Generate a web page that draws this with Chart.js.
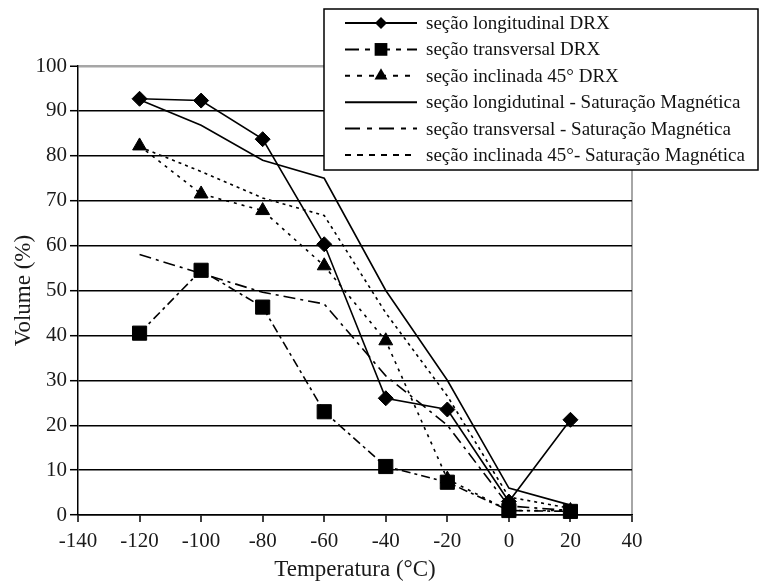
<!DOCTYPE html>
<html lang="pt">
<head>
<meta charset="utf-8">
<title>Volume x Temperatura</title>
<script src="https://cdn.jsdelivr.net/npm/chart.js@4.4.1/dist/chart.umd.min.js"></script>
<style>
  html, body { margin: 0; padding: 0; background: #fff; }
  canvas { display: block; }
</style>
</head>
<body>
<canvas id="grafico" width="761" height="586"></canvas>
<script>
// temperaturas de ensaio (°C)
const temperaturas = [-120, -100, -80, -60, -40, -20, 0, 20];

// volume (%) medido por DRX
const longDRX  = [92.7, 92.3, 83.7, 60.3, 26.0, 23.5, 3.0, 21.2];
const transDRX = [40.5, 54.5, 46.3, 23.0, 10.8, 7.3, 1.0, 0.8];
const inclDRX  = [82.2, 71.5, 67.8, 55.5, 38.8, 8.0, 1.0, 1.0];

// volume (%) por saturação magnética
const longSM  = [92.5, 86.8, 79.0, 75.0, 50.0, 30.0, 6.0, 2.2];
const transSM = [58.0, 53.8, 49.6, 47.0, 31.0, 20.0, 2.0, 1.0];
const inclSM  = [82.0, 76.5, 70.6, 66.7, 45.0, 26.5, 4.0, 1.5];

// marcas dos eixos
const ticksX = [-140, -120, -100, -80, -60, -40, -20, 0, 20, 40];
const ticksY = [0, 10, 20, 30, 40, 50, 60, 70, 80, 90, 100];

const FONTE = "'Liberation Serif', 'Times New Roman', serif";

function pontos(valores) {
    return valores.map((v, i) => ({ x: temperaturas[i], y: v }));
}

function serie(label, valores, dash, estilo, raio, legDash, legRaio) {
    return {
        label: label,
        data: pontos(valores),
        borderColor: '#000',
        backgroundColor: '#000',
        borderWidth: 1.6,
        borderDash: dash,
        tension: 0,
        pointStyle: estilo || 'circle',
        pointRadius: estilo ? raio : 0,
        pointHoverRadius: estilo ? raio : 0,
        pointBackgroundColor: '#000',
        pointBorderColor: '#000',
        pointBorderWidth: 1,
        clip: false,
        legDash: legDash,
        legRaio: legRaio
    };
}

const datasets = [
    serie('seção longitudinal DRX', longDRX, [], 'rectRot', 7.5, [], 6),
    serie('seção transversal DRX', transDRX, [9, 4, 3, 4], 'rect', 10, [14, 6, 5, 6], 9),
    serie('seção inclinada 45° DRX', inclDRX, [3, 5], 'triangle', 8, [5, 7], 7.5),
    serie('seção longidutinal - Saturação Magnética', longSM, [], null, 0, [], 0),
    serie('seção transversal - Saturação Magnética', transSM, [12, 5, 3, 5], null, 0, [15, 7, 5, 7], 0),
    serie('seção inclinada 45°- Saturação Magnética', inclSM, [3, 4], null, 0, [6, 6], 0)
];

function marcador(ctx, estilo, r, x, y) {
    ctx.beginPath();
    if (estilo === 'rectRot') {
        ctx.moveTo(x, y - r); ctx.lineTo(x + r, y); ctx.lineTo(x, y + r); ctx.lineTo(x - r, y);
    } else if (estilo === 'rect') {
        const s = r * Math.SQRT1_2;
        ctx.rect(x - s, y - s, 2 * s, 2 * s);
    } else if (estilo === 'triangle') {
        const h = r * 0.866;
        ctx.moveTo(x, y - r); ctx.lineTo(x + h, y + r / 2); ctx.lineTo(x - h, y + r / 2);
    }
    ctx.closePath();
    ctx.fill();
}

// quadro da legenda sobre a área do gráfico
const legendaQuadro = {
    id: 'legendaQuadro',
    afterDraw(chart) {
        const ctx = chart.ctx;
        const bx = 324, by = 9, bw = 434, bh = 161;
        ctx.save();
        ctx.setLineDash([]);
        ctx.fillStyle = '#fff';
        ctx.fillRect(bx, by, bw, bh);
        ctx.strokeStyle = '#000';
        ctx.lineWidth = 1.5;
        ctx.strokeRect(bx, by, bw, bh);

        ctx.font = '19px ' + FONTE;
        ctx.textBaseline = 'middle';
        ctx.textAlign = 'left';
        chart.data.datasets.forEach((ds, i) => {
            const y = 23 + i * 26.4;
            ctx.strokeStyle = '#000';
            ctx.lineWidth = 2;
            ctx.setLineDash(ds.legDash);
            ctx.beginPath();
            ctx.moveTo(345, y);
            ctx.lineTo(417, y);
            ctx.stroke();
            ctx.setLineDash([]);
            if (ds.pointRadius > 0) {
                ctx.fillStyle = '#000';
                marcador(ctx, ds.pointStyle, ds.legRaio, 381, y);
            }
            ctx.fillStyle = '#111';
            ctx.fillText(ds.label, 426, y + 1);
        });
        ctx.restore();
    }
};

new Chart(document.getElementById('grafico'), {
    type: 'line',
    data: { datasets: datasets },
    options: {
        responsive: false,
        animation: false,
        events: [],
        layout: { padding: { top: 66, right: 129, left: 0, bottom: 0 } },
        plugins: {
            legend: { display: false },
            title: { display: false },
            tooltip: { enabled: false }
        },
        scales: {
            x: {
                type: 'linear',
                min: -140,
                max: 40,
                afterBuildTicks: s => { s.ticks = ticksX.map(v => ({ value: v })); },
                afterFit: s => { s.height = 71; },
                border: { display: true, color: '#000', width: 1.5 },
                grid: {
                    drawOnChartArea: true,
                    color: c => (c.tick && c.tick.value === 40) ? '#a6a6a6' : 'rgba(0,0,0,0)',
                    lineWidth: 2,
                    tickColor: '#000',
                    tickLength: 7,
                    tickWidth: 1.5
                },
                ticks: {
                    color: '#1a1a1a',
                    font: { family: FONTE, size: 21 },
                    padding: 7,
                    maxRotation: 0,
                    autoSkip: false
                },
                title: {
                    display: true,
                    text: 'Temperatura (°C)',
                    color: '#1a1a1a',
                    font: { family: FONTE, size: 23 },
                    padding: { top: 0, bottom: 2 }
                }
            },
            y: {
                min: 0,
                max: 100,
                afterBuildTicks: s => { s.ticks = ticksY.map(v => ({ value: v })); },
                afterFit: s => { s.width = 78; },
                border: { display: true, color: '#000', width: 1.5 },
                grid: {
                    color: c => (c.tick && c.tick.value === 100) ? '#a6a6a6' : '#000',
                    lineWidth: c => (c.tick && c.tick.value === 100) ? 2.5 : 1.4,
                    tickColor: '#000',
                    tickLength: 8,
                    tickWidth: 1.5
                },
                ticks: {
                    color: '#1a1a1a',
                    font: { family: FONTE, size: 21 },
                    padding: 3,
                    autoSkip: false
                },
                title: {
                    display: true,
                    text: 'Volume (%)',
                    color: '#1a1a1a',
                    font: { family: FONTE, size: 23 },
                    padding: { top: 10, bottom: 0 }
                }
            }
        }
    },
    plugins: [legendaQuadro]
});
</script>
</body>
</html>
